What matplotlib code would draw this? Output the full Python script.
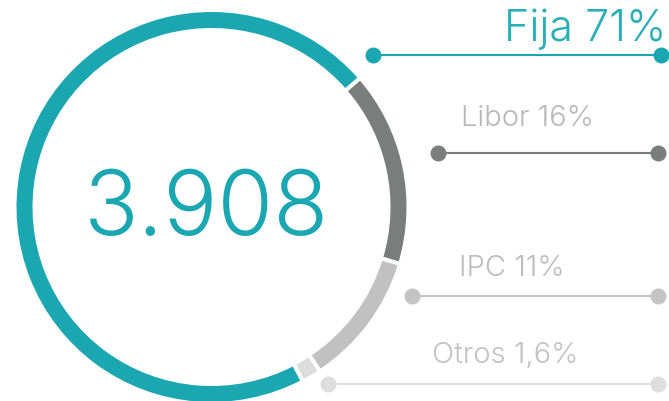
import matplotlib
matplotlib.use("Agg")
import matplotlib.pyplot as plt

# Data
categories = ["Libor", "IPC", "Otros", "Fija"]
values = [16, 11, 1.6, 71]
labels = ["Libor 16%", "IPC 11%", "Otros 1,6%", "Fija 71%"]
total_label = "3.908"

colors = ["#7b7d7d", "#c1c1c1", "#dcdcdc", "#1aa7b1"]
line_colors = ["#7b7d7d", "#c4c4c4", "#dedede", "#1aa7b1"]
text_colors = ["#b8b8b8", "#bdbdbd", "#c2c2c2", "#2aaeb7"]

W, H = 669, 401
fig = plt.figure(figsize=(W / 100, H / 100), dpi=100)
ax = fig.add_axes([0, 0, 1, 1])

def Y(py):
    return H - py

lw_px = 4
ax.pie(values, colors=colors, startangle=41, counterclock=False,
       center=(211.5, Y(207)), radius=195 + lw_px / 2,
       wedgeprops=dict(width=16 + lw_px, edgecolor="white", linewidth=lw_px * 0.72))

ax.set_xlim(0, W)
ax.set_ylim(0, H)
ax.set_aspect("auto")
ax.axis("off")

font = dict(family=["Inter", "DejaVu Sans"], fontweight=300)

ax.text(207, Y(235), total_label, color="#1aa7b1", fontsize=65, ha="center",
        va="baseline", **font)

# legend rows: (line x0, x1, y, text x, baseline y, ha, size)
rows = {
    "Libor": (438, 658, 153, 461, 126, "left", 21),
    "IPC": (412, 658, 296, 459, 276, "left", 21),
    "Otros": (328, 658, 384, 432, 363, "left", 21),
    "Fija": (373, 661, 55, 666, 41, "right", 31),
}
for cat, lab, lc, tc in zip(categories, labels, line_colors, text_colors):
    x0, x1, y, tx, ty, ha, fs = rows[cat]
    ax.plot([x0, x1], [Y(y), Y(y)], color=lc, lw=1.5, marker="o",
            markersize=11.5, markeredgewidth=0, solid_capstyle="butt")
    ax.text(tx, Y(ty), lab, color=tc, fontsize=fs, ha=ha, va="baseline", **font)

fig.savefig("out.png", dpi=100)
